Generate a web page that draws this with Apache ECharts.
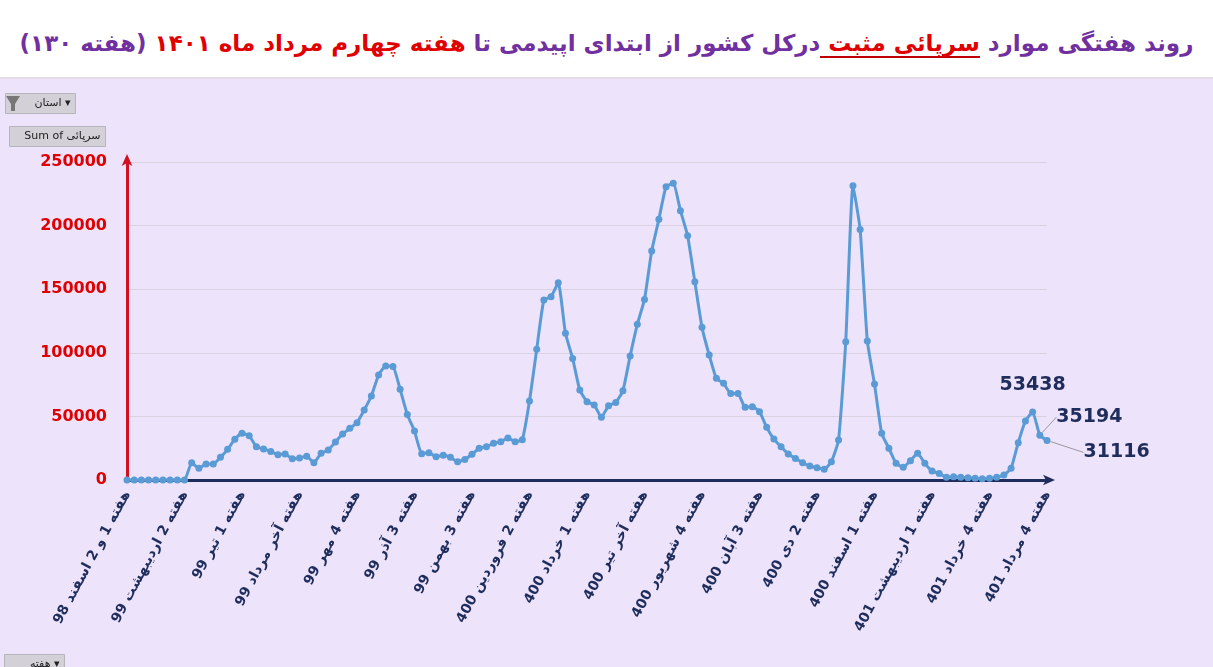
<!DOCTYPE html>
<html><head><meta charset="utf-8">
<script src="https://cdn.jsdelivr.net/npm/echarts@6/dist/echarts.min.js"></script>
<style>
html,body{margin:0;padding:0;width:1213px;height:667px;overflow:hidden;background:#ede3fb;font-family:'DejaVu Sans',sans-serif}
#title{position:absolute;left:0;top:0;width:1213px;height:79px;background:#fff;border-bottom:2px solid #e3dce9;box-sizing:border-box;direction:rtl;text-align:center;font-weight:bold;font-size:23px;line-height:86px;color:#7030a0;white-space:nowrap;letter-spacing:-0.6px}
#title .r{color:#e00000}
#title .u{border-bottom:2px solid #c00000}
#chart{position:absolute;left:0;top:0;width:1213px;height:667px}
</style></head><body>
<div id="chart"></div>
<div id="title">روند هفتگی موارد <span class="r u">سرپائی مثبت </span> درکل کشور از ابتدای اپیدمی تا <span class="r">هفته چهارم مرداد ماه ۱۴۰۱</span> (هفته ۱۳۰)</div>
<script>
const tickLabels = ["هفته 1 و 2 اسفند 98","هفته 2 اردیبهشت 99","هفته 1 تیر 99","هفته آخر مرداد 99","هفته 4 مهر 99","هفته 3 آذر 99","هفته 3 بهمن 99","هفته 2 فروردین 400","هفته 1 خرداد 400","هفته آخر تیر 400","هفته 4 شهریور 400","هفته 3 آبان 400","هفته 2 دی 400","هفته 1 اسفند 400","هفته 1 اردیبهشت 401","هفته 4 خرداد 401","هفته 4 مرداد 401"];
const values = [0,0,0,0,0,0,0,0,0,
13600,9200,12600,12600,17800,24100,32000,36700,34800,26200,24400,22500,19900,20400,16800,17300,18600,13600,21000,23600,29900,36200,40600,45100,55000,66000,82500,89600,89300,71300,51400,38500,20700,21500,18300,19400,17800,14400,16200,20200,24900,26200,28800,30100,33000,30100,31700,62100,102700,141500,144100,155100,
115300,95600,70700,61600,59000,49300,58400,61000,70200,97500,122400,142000,180000,204900,230600,233200,211700,192000,155900,120000,98300,79900,76000,68100,68100,57100,57600,53700,41400,32200,26200,20400,17000,13600,11000,9700,8400,14400,31400,108700,231300,197000,109300,75500,36700,24900,13100,10000,15200,21000,13100,7100,5200,2100,2600,2100,1800,1300,1000,1300,2100,3900,9200,29300,46400,53438,35194,31116];
const labelEvery = 8;
const categories = values.map((v,i)=> i%labelEvery===0 && tickLabels[i/labelEvery] ? tickLabels[i/labelEvery] : 'w'+(i+1));
const n = values.length;
const lbl = {fontSize:19,fontWeight:'bold',color:'#1f2d5c',fontFamily:'DejaVu Sans'};
const seriesData = values.map((v,i)=>{
  if(i===n-3) return {value:v,label:{show:true,position:'top',distance:14,...lbl}};
  if(i>=n-2) return {value:v,label:{show:true,position:'right',...lbl},labelLine:{show:true,lineStyle:{color:'#999',width:1}}};
  return v;
});
const chart = echarts.init(document.getElementById('chart'));
const btn = (x,y,w,text)=>({type:'group',left:x,top:y,children:[
  {type:'rect',shape:{x:0,y:0,width:w,height:20},style:{fill:'#d4d0d8',stroke:'#b8b4bc'}},
  {type:'text',style:{x:w-5,y:10,text:text,align:'right',verticalAlign:'middle',fontSize:11,fill:'#222',fontFamily:'DejaVu Sans'}}]});
chart.setOption({
  animation:false,
  grid:{left:127,right:166,top:162,bottom:187},
  xAxis:{type:'category',data:categories,boundaryGap:false,
    axisLine:{lineStyle:{color:'#1f2d5c',width:3},symbol:['none','arrow'],symbolSize:[8,12],symbolOffset:[0,8]},
    axisTick:{show:false},
    axisLabel:{interval:i=>i%labelEvery===0,formatter:v=>v.startsWith('w')?'':v,rotate:62,fontSize:14,fontWeight:'bold',color:'#1f2d5c',fontFamily:'DejaVu Sans',margin:12}},
  yAxis:{type:'value',min:0,max:250000,interval:50000,
    axisLine:{show:true,lineStyle:{color:'#d01020',width:3},symbol:['none','arrow'],symbolSize:[8,12],symbolOffset:[0,8]},
    axisLabel:{color:'#e00000',fontSize:16,fontWeight:'bold',fontFamily:'DejaVu Sans',margin:20,formatter:v=>String(v)},
    splitLine:{lineStyle:{color:'#d9d2df',width:1}}},
  series:[{type:'line',data:seriesData,smooth:0.15,symbol:'circle',symbolSize:7,showAllSymbol:true,
    lineStyle:{color:'#5b9bd5',width:3},itemStyle:{color:'#5b9bd5'},
    labelLayout:p=>p.dataIndex===n-2?{dx:8,dy:-18,hideOverlap:false}:p.dataIndex===n-1?{dx:28,dy:12,hideOverlap:false}:{hideOverlap:false}}],
  graphic:[btn(5,93,70,'استان ▾'),btn(9,126,96,'Sum of سرپائی'),btn(4,654,60,'هفته ▾'),
    {type:'polygon',shape:{points:[[6,96],[20,96],[15,104],[15,111],[11,111],[11,104]]},style:{fill:'#777'}}]
});
</script></body></html>
